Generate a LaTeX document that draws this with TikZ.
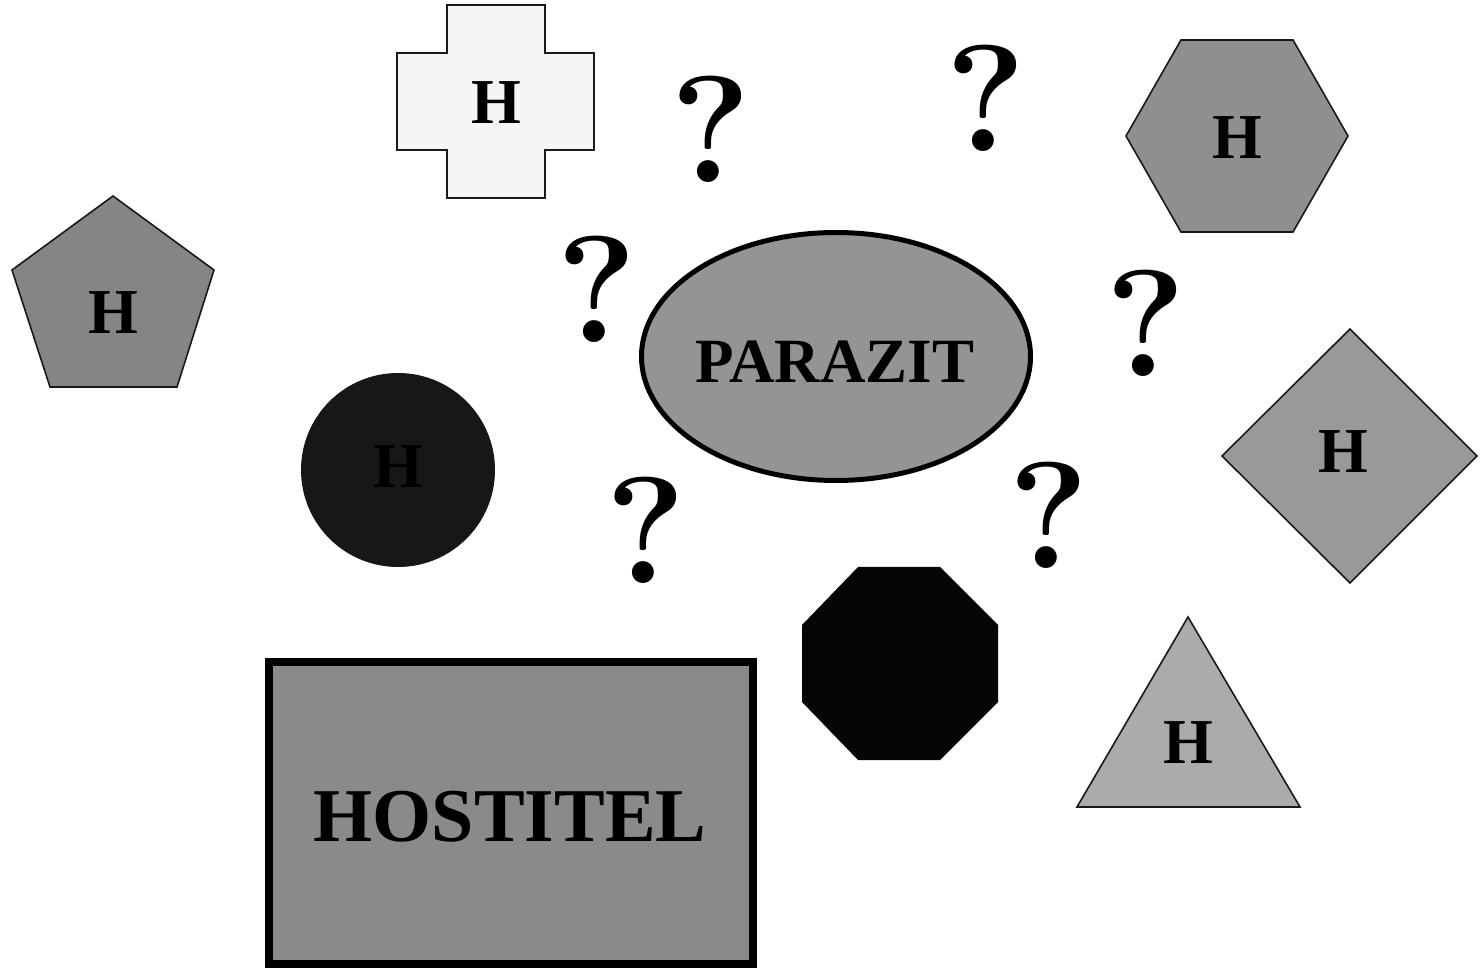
\documentclass[tikz,border=0pt]{standalone}
\usepackage{fontspec}
\newfontfamily\libser{Liberation Serif}
\begin{document}
\begin{tikzpicture}[x=0.5pt,y=-0.5pt,
  shp/.style={draw=black!90,line width=0.8pt},
  hlab/.style={inner sep=0pt,font=\libser\fontsize{32}{32}\selectfont\bfseries},
  qm/.style={inner sep=0pt,font=\fontsize{76}{76}\selectfont\bfseries}]
\useasboundingbox[fill=white] (0,0) rectangle (1480,973);
% cross
\filldraw[shp,fill=black!4] (447,5) -- (545,5) -- (545,53) -- (594,53) -- (594,150) -- (545,150) -- (545,198) -- (447,198) -- (447,150) -- (397,150) -- (397,53) -- (447,53) -- cycle;
\node[hlab] (hcross) at (496,103) {H};
% pentagon
\filldraw[shp,fill=black!48] (113,196) -- (214,270) -- (177,387) -- (50,387) -- (12,270) -- cycle;
\node[hlab] (hpent) at (113,313) {H};
% circle
\fill[black!91] (398,470) circle[radius=97];
\node[hlab,text=black] (hcirc) at (398,467) {H};
% hexagon
\filldraw[shp,fill=black!44] (1126,136) -- (1181,40) -- (1293,40) -- (1348,136) -- (1293,232) -- (1181,232) -- cycle;
\node[hlab] (hhex) at (1237,138) {H};
% diamond
\filldraw[shp,fill=black!40] (1350,329) -- (1477,456) -- (1350,583) -- (1222,456) -- cycle;
\node[hlab] (hdia) at (1343,452) {H};
% triangle
\filldraw[shp,fill=black!33] (1188,617) -- (1300,807) -- (1077,807) -- cycle;
\node[hlab] (htri) at (1188,743) {H};
% octagon
\fill[black!98] (858,567) -- (940,567) -- (998,625) -- (998,702) -- (940,760) -- (858,760) -- (802,702) -- (802,625) -- cycle;
% ellipse
\filldraw[draw=black,line width=2.5pt,fill=black!42] (836,356.5) ellipse[x radius=194.5,y radius=124];
\node[inner sep=0pt,font=\libser\fontsize{31.5}{31.5}\selectfont\bfseries] (parazit) at (835,362) {PARAZIT};
% rectangle
\filldraw[draw=black,line width=4pt,fill=black!46] (269,662) rectangle (753,964);
\node[inner sep=0pt,font=\libser\fontsize{38}{38}\selectfont\bfseries] (hostitel) at (510,817) {HOSTITEL};
% question marks
\node[qm] (q1) at (711,129) {?};
\node[qm] (q2) at (986,98) {?};
\node[qm] (q3) at (597,289) {?};
\node[qm] (q4) at (1146,323) {?};
\node[qm] (q5) at (646,530) {?};
\node[qm] (q6) at (1049,515) {?};
\end{tikzpicture}
\end{document}
